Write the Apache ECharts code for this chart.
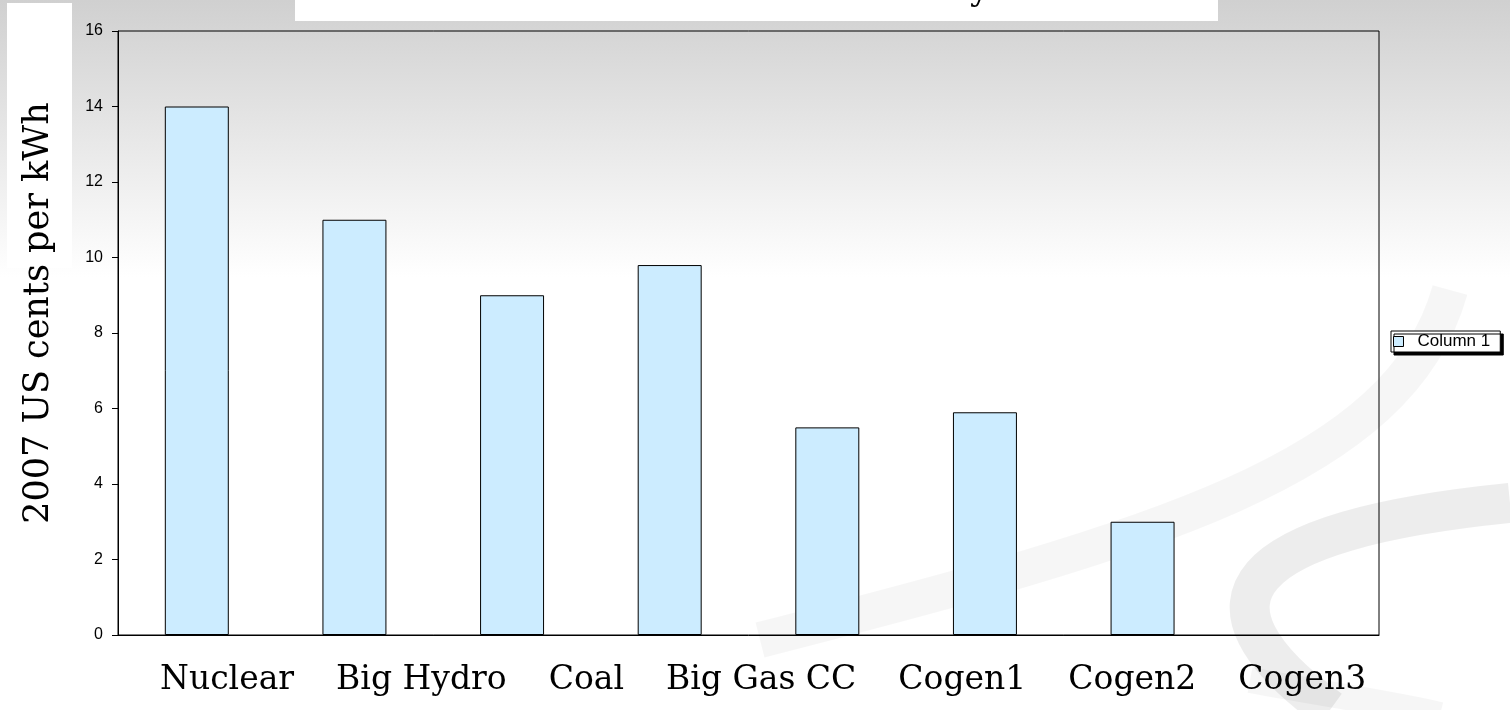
<!DOCTYPE html>
<html>
<head>
<meta charset="utf-8">
<script src="https://cdn.jsdelivr.net/npm/echarts@6/dist/echarts.min.js"></script>
<style>
  html, body { margin: 0; padding: 0; }
  #main { width: 1510px; height: 710px; }
</style>
</head>
<body>
<div id="main"></div>
<script>
// data
var categories = ['Nuclear', 'Big Hydro', 'Coal', 'Big Gas CC', 'Cogen1', 'Cogen2', 'Cogen3'];
var values = [14, 11, 9, 9.8, 5.5, 5.9, 3];
var seriesName = 'Column 1';
var yTitle = '2007 US cents per kWh';

// one empty slot at the right end of the axis
var slots = categories.concat(['']);

var chart = echarts.init(document.getElementById('main'));

var option = {
    backgroundColor: {
        type: 'linear', x: 0, y: 0, x2: 0, y2: 1,
        colorStops: [
            {offset: 0, color: '#d0d0d0'},
            {offset: 0.39, color: '#ffffff'},
            {offset: 1, color: '#ffffff'}
        ]
    },
    animation: false,
    graphic: [
        // faint swooshes of the slide template
        {type: 'bezierCurve', z: -5, shape: {x1: 760, y1: 640, cpx1: 1150, cpy1: 540, cpx2: 1400, cpy2: 470, x2: 1450, y2: 290},
            style: {stroke: 'rgba(0,0,0,0.035)', lineWidth: 36, fill: null}},
        {type: 'bezierCurve', z: -5, shape: {x1: 1510, y1: 503, cpx1: 1240, cpy1: 530, cpx2: 1180, cpy2: 600, x2: 1330, y2: 710},
            style: {stroke: 'rgba(0,0,0,0.07)', lineWidth: 40, fill: null}},
        {type: 'bezierCurve', z: -5, shape: {x1: 1250, y1: 680, cpx1: 1330, cpy1: 695, cpx2: 1400, cpy2: 705, x2: 1440, y2: 715},
            style: {stroke: 'rgba(0,0,0,0.035)', lineWidth: 26, fill: null}},
        // white text boxes of the slide
        {type: 'rect', z: -4, shape: {x: 295, y: 0, width: 923, height: 21}, style: {fill: '#ffffff'}},
        {type: 'text', z: -3, left: 970, top: -26, style: {text: 'y', font: '34px "DejaVu Serif"', fill: '#000'}},
        {type: 'rect', z: -4, shape: {x: 7, y: 3, width: 65, height: 265}, style: {fill: '#ffffff'}},
        // category names, typed as one line under the plot
        {type: 'text', z: 3, left: 160, top: 664,
            style: {text: categories.join('    '), font: '33px "DejaVu Serif"', fill: '#000'}}
    ],
    legend: {
        left: 1391,
        top: 331,
        orient: 'vertical',
        backgroundColor: '#fff',
        borderColor: '#000',
        borderWidth: 1,
        borderRadius: 0,
        padding: [2, 10, 2, 2],
        shadowColor: '#000',
        shadowBlur: 0,
        shadowOffsetX: 3,
        shadowOffsetY: 3,
        itemWidth: 10,
        itemHeight: 10,
        itemGap: 4,
        textStyle: {fontFamily: 'Liberation Sans', fontSize: 17, color: '#000', padding: [0, 0, 0, 9]},
        data: [{name: seriesName, icon: 'rect', itemStyle: {color: '#CCECFF', borderColor: '#000', borderWidth: 1}}]
    },
    grid: {
        left: 118, right: 131, top: 31, bottom: 75,
        show: true, borderColor: '#000', borderWidth: 1,
        backgroundColor: 'transparent'
    },
    xAxis: {
        type: 'category',
        data: slots,
        axisLine: {lineStyle: {color: '#000', width: 1}},
        axisTick: {show: false},
        axisLabel: {show: false},
        splitLine: {show: false}
    },
    yAxis: {
        type: 'value',
        min: 0, max: 16, interval: 2,
        name: yTitle,
        nameLocation: 'middle',
        nameGap: 62,
        nameTextStyle: {fontFamily: 'DejaVu Serif', fontSize: 35, color: '#000', padding: [0, 0, 0, 40]},
        axisLine: {show: true, lineStyle: {color: '#000', width: 1}},
        axisTick: {show: true, length: 6, lineStyle: {color: '#000'}},
        axisLabel: {fontFamily: 'Liberation Sans', fontSize: 16, color: '#000', margin: 15},
        splitLine: {show: false}
    },
    series: [{
        name: seriesName,
        type: 'bar',
        data: values,
        barWidth: '40.6%',
        itemStyle: {color: '#CCECFF', borderColor: '#000', borderWidth: 1}
    }]
};

chart.setOption(option);
</script>
</body>
</html>
